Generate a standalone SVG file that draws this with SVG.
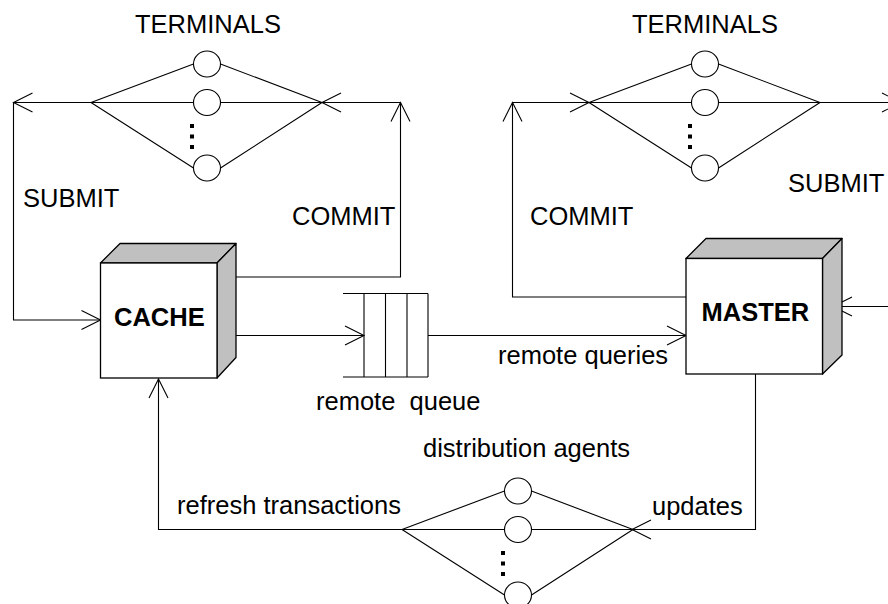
<svg xmlns="http://www.w3.org/2000/svg" width="888" height="604" viewBox="0 0 888 604">
  <style>
    .ln { fill: none; stroke: #000; stroke-width: 1.1; }
    .ah { fill: none; stroke: #000; stroke-width: 1.1; }
    .circ { fill: #fff; stroke: #000; stroke-width: 1.1; }
    .front { fill: #fff; stroke: #000; stroke-width: 1.3; }
    .side { fill: #c0c0c0; stroke: #000; stroke-width: 1.3; stroke-linejoin: round; }
    .dot { fill: #000; }
    .lbl { font-family: "Liberation Sans", Arial, sans-serif; font-size: 25.5px; fill: #000; }
    .bold { font-weight: bold; }
  </style>
  <defs>
    <!-- open V arrowhead, tip at origin, pointing along +x -->
    <path id="ah" class="ah" d="M-19,-9.5 L0,0 L-19,9.5"/>
    <!-- group of parallel servers: forks at x=0 and x=231, circles at x=116 -->
    <g id="servers">
      <path class="ln" d="M0,0 L102.5,-38.5 M0,0 L102.5,0 M0,0 L102.5,65.5 M129.5,-38.5 L231,0 M129.5,0 L231,0 M129.5,65.5 L231,0"/>
      <ellipse class="circ" cx="116" cy="-38.5" rx="13.5" ry="13"/>
      <ellipse class="circ" cx="116" cy="0" rx="13.5" ry="13"/>
      <ellipse class="circ" cx="116" cy="65.5" rx="13.5" ry="13"/>
      <rect class="dot" x="99" y="21.5" width="4" height="4"/>
      <rect class="dot" x="99" y="32" width="4" height="4"/>
      <rect class="dot" x="99" y="42.5" width="4" height="4"/>
    </g>
  </defs>

  <!-- connectors -->
  <g id="connectors">
    <!-- cache side: submit loop and commit loop -->
    <polyline class="ln" points="91,102.5 13.5,102.5 13.5,320 100.5,320"/>
    <polyline class="ln" points="227,277 400.5,277 400.5,102.5 322,102.5"/>
    <!-- cache to remote queue, queue to master -->
    <line class="ln" x1="227" y1="335.5" x2="364" y2="335.5"/>
    <line class="ln" x1="428" y1="335.5" x2="686" y2="335.5"/>
    <!-- master side: commit loop and submit loop -->
    <polyline class="ln" points="686,297 512.5,297 512.5,102.5 589,102.5"/>
    <line class="ln" x1="820" y1="102.5" x2="901" y2="102.5"/>
    <line class="ln" x1="900" y1="306.5" x2="833" y2="306.5"/>
    <!-- updates and refresh transactions -->
    <polyline class="ln" points="755.5,374 755.5,529.5 632,529.5"/>
    <polyline class="ln" points="402,529.5 158.5,529.5 158.5,379"/>

    <use href="#ah" transform="translate(13.5,102.5) rotate(180)"/>
    <use href="#ah" transform="translate(322,102.5) rotate(180)"/>
    <use href="#ah" transform="translate(400.5,102.5) rotate(-90)"/>
    <use href="#ah" transform="translate(100.5,320)"/>
    <use href="#ah" transform="translate(364,335.5)"/>
    <use href="#ah" transform="translate(686,335.5)"/>
    <use href="#ah" transform="translate(833,306.5) rotate(180)"/>
    <use href="#ah" transform="translate(512.5,102.5) rotate(-90)"/>
    <use href="#ah" transform="translate(589,102.5)"/>
    <use href="#ah" transform="translate(901,102.5)"/>
    <use href="#ah" transform="translate(632,529.5) rotate(180)"/>
    <use href="#ah" transform="translate(158.5,379) rotate(-90)"/>
  </g>

  <!-- terminals of the cache -->
  <g id="cache-terminals">
    <use href="#servers" transform="translate(91,102.5)"/>
    <text class="lbl" x="135" y="33">TERMINALS</text>
  </g>

  <!-- terminals of the master -->
  <g id="master-terminals">
    <use href="#servers" transform="translate(589,102.5)"/>
    <text class="lbl" x="632" y="33">TERMINALS</text>
  </g>

  <!-- distribution agents -->
  <g id="distribution-agents">
    <use href="#servers" transform="translate(402,529.5)"/>
    <text class="lbl" x="423" y="456.5">distribution agents</text>
  </g>

  <!-- cache node -->
  <g id="cache">
    <polygon class="side" points="100.5,263 120,243.5 236,243.5 217,263"/>
    <polygon class="side" points="217,263 236,243.5 236,357.5 217,378"/>
    <rect class="front" x="100.5" y="263" width="116.5" height="115"/>
    <text class="lbl bold" x="114" y="326">CACHE</text>
  </g>

  <!-- master node -->
  <g id="master">
    <polygon class="side" points="686,258.5 706,238.5 842,238.5 822.5,258.5"/>
    <polygon class="side" points="822.5,258.5 842,238.5 842,355 822.5,374"/>
    <rect class="front" x="686" y="258.5" width="136.5" height="115.5"/>
    <text class="lbl bold" x="701.5" y="320.5">MASTER</text>
  </g>

  <!-- remote queue -->
  <g id="remote-queue">
    <path class="ln" d="M343,293.5 H428 M343,377 H428 M364,293.5 V377 M385.5,293.5 V377 M407,293.5 V377 M428,293.5 V377"/>
    <text class="lbl" x="316" y="410" xml:space="preserve">remote  queue</text>
  </g>

  <!-- connector labels -->
  <g id="labels">
    <text class="lbl" x="23" y="207">SUBMIT</text>
    <text class="lbl" x="292" y="225">COMMIT</text>
    <text class="lbl" x="530" y="225">COMMIT</text>
    <text class="lbl" x="788" y="192">SUBMIT</text>
    <text class="lbl" x="498" y="364">remote queries</text>
    <text class="lbl" x="177" y="514">refresh transactions</text>
    <text class="lbl" x="652" y="515">updates</text>
  </g>
</svg>
